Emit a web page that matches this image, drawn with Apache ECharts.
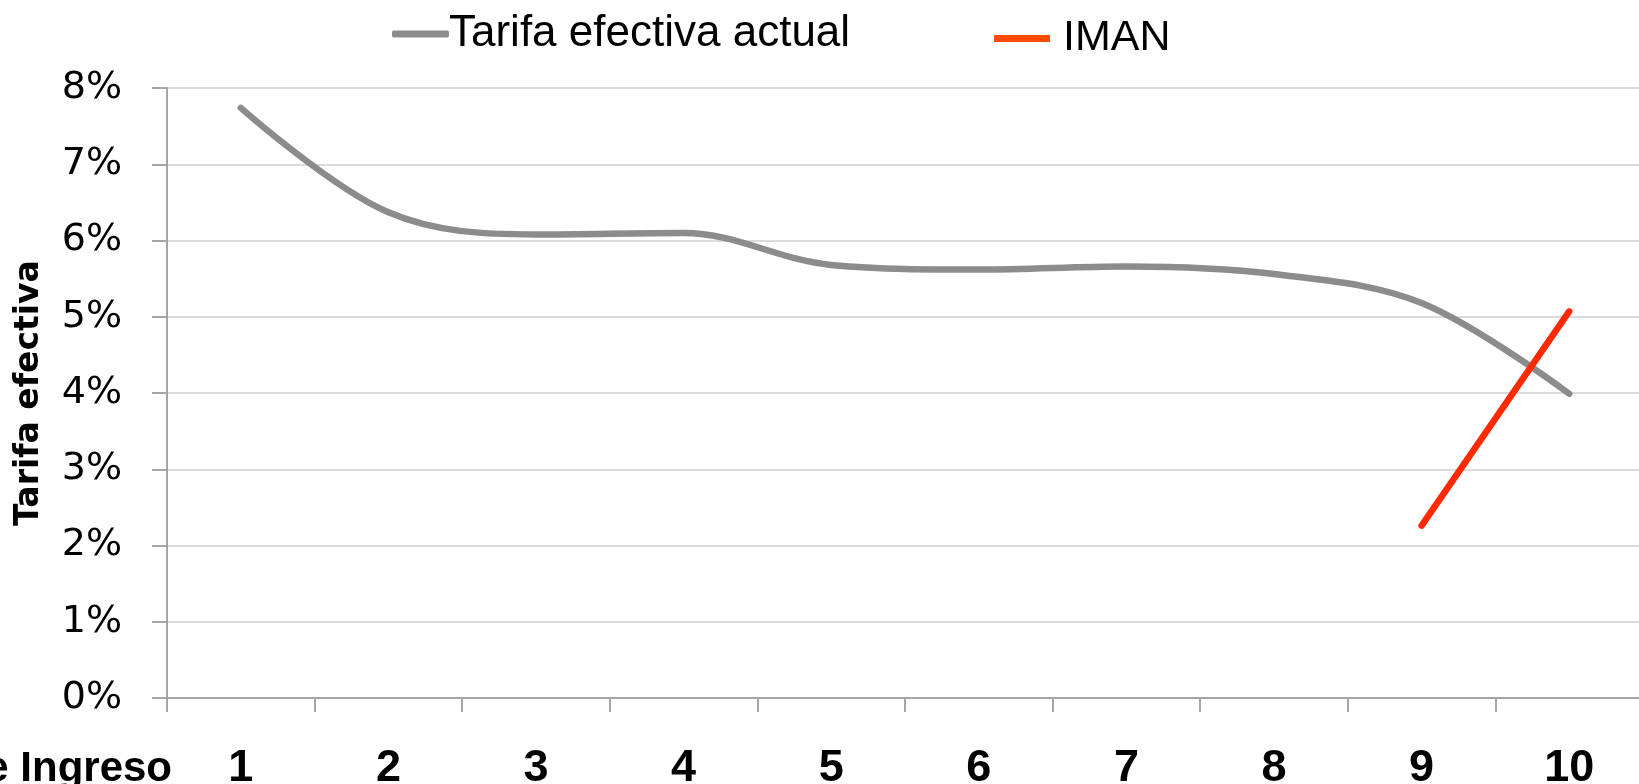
<!DOCTYPE html>
<html>
<head>
<meta charset="utf-8">
<title>Tarifa efectiva</title>
<script src="https://cdn.jsdelivr.net/npm/echarts@6/dist/echarts.min.js"></script>
<style>
    html, body { margin: 0; padding: 0; background: #fff; }
    #main { width: 1639px; height: 784px; }
</style>
</head>
<body>
<div id="main"></div>
<script>
//deciles
var deciles = ['1', '2', '3', '4', '5', '6', '7', '8', '9', '10'];
//tarifa efectiva actual (%)
var tarifaActual = [7.74, 6.37, 6.08, 6.10, 5.68, 5.62, 5.66, 5.56, 5.18, 3.99];
//IMAN (%), solo deciles 9 y 10
var iman = [null, null, null, null, null, null, null, null, 2.26, 5.07];
//eje y
var yMin = 0, yMax = 8, yStep = 1;

var gris = '#8c8c8c';
var rojo = '#ff2a00';
var ejeColor = '#a6a6a6';

var myChart = echarts.init(document.getElementById('main'));

var option = {
    animation: false,
    backgroundColor: '#fff',
    legend: [{
        left: 387,
        top: 7,
        icon: 'roundRect',
        itemWidth: 57,
        itemHeight: 7,
        itemGap: 0,
        textStyle: { fontFamily: 'Liberation Sans', fontSize: 44, color: '#000', padding: [0, 0, 0, -5] },
        data: [{ name: 'Tarifa efectiva actual', itemStyle: { color: gris } }]
    }, {
        left: 989,
        top: 12,
        icon: 'rect',
        itemWidth: 56,
        itemHeight: 7,
        textStyle: { fontFamily: 'Liberation Sans', fontSize: 43, color: '#000', padding: [0, 0, 0, 8] },
        data: [{ name: 'IMAN', itemStyle: { color: '#ff4a00' } }]
    }],
    grid: {
        left: 167,
        right: -4,
        top: 88,
        bottom: 86,
        containLabel: false,
        outerBoundsMode: 'none'
    },
    xAxis: {
        type: 'category',
        data: deciles,
        boundaryGap: true,
        name: 'Decil de Ingreso',
        nameLocation: 'start',
        nameGap: -5,
        nameTextStyle: {
            fontFamily: 'Liberation Sans', fontWeight: 'bold', fontSize: 42, color: '#000',
            verticalAlign: 'top', padding: [50, 0, 0, 0]
        },
        axisLine: { lineStyle: { color: ejeColor, width: 2 } },
        axisTick: { show: true, length: 14, lineStyle: { color: ejeColor, width: 2 } },
        axisLabel: {
            fontFamily: 'Liberation Sans', fontWeight: 'bold', fontSize: 45, color: '#000', margin: 48
        }
    },
    yAxis: {
        type: 'value',
        min: yMin,
        max: yMax,
        interval: yStep,
        name: 'Tarifa efectiva',
        nameLocation: 'middle',
        nameRotate: 90,
        nameGap: 121,
        nameTextStyle: { fontFamily: 'DejaVu Sans', fontWeight: 'bold', fontSize: 33, color: '#000' },
        axisLine: { show: true, lineStyle: { color: ejeColor, width: 2 } },
        axisTick: { show: true, length: 15, lineStyle: { color: ejeColor, width: 2 } },
        axisLabel: {
            formatter: '{value}%',
            fontFamily: 'DejaVu Sans', fontSize: 38, color: '#000', margin: 45
        },
        splitLine: { lineStyle: { color: '#dcdcdc', width: 2 } }
    },
    series: [
        {
            name: 'Tarifa efectiva actual',
            type: 'line',
            data: tarifaActual,
            smooth: 0.35,
            showSymbol: false,
            lineStyle: { color: gris, width: 6.5, cap: 'round' },
            itemStyle: { color: gris }
        },
        {
            name: 'IMAN',
            type: 'line',
            data: iman,
            smooth: 0.35,
            showSymbol: false,
            lineStyle: { color: rojo, width: 6.5, cap: 'round' },
            itemStyle: { color: rojo }
        }
    ]
};
myChart.setOption(option);
</script>
</body>
</html>
